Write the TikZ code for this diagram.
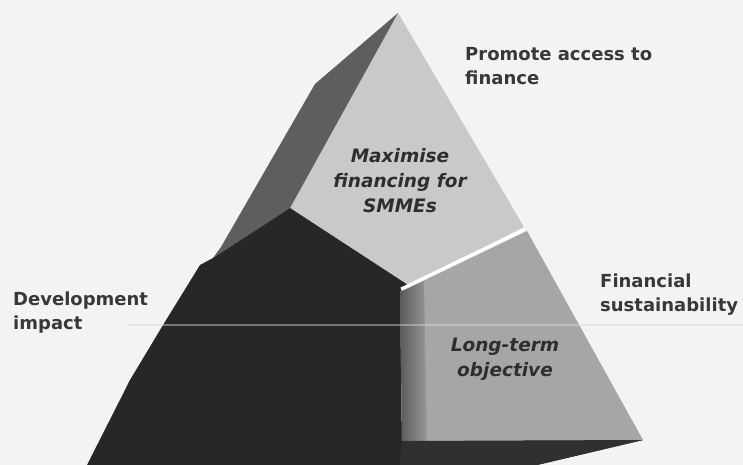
\documentclass[tikz,border=0pt]{standalone}
\usepackage{fontspec}
\setmainfont{DejaVu Sans}
\begin{document}
\begin{tikzpicture}[x=1pt,y=-1pt,
  outlabel/.style={font=\fontsize{18}{24}\selectfont\bfseries, text=black!78, align=left, anchor=north west, inner sep=0pt},
  facelabel/.style={font=\fontsize{18.5}{25}\selectfont\bfseries\itshape, text=black!82, align=center, inner sep=0pt}]
\definecolor{paper}{HTML}{F3F3F3}
\definecolor{topface}{HTML}{C9C9C9}
\definecolor{topside}{HTML}{5E5E5E}
\definecolor{blockdark}{HTML}{272727}
\definecolor{blockgray}{HTML}{A6A6A6}
\definecolor{blockside}{HTML}{6A6A6A}
\definecolor{blockfoot}{HTML}{303030}
\fill[paper] (0,0) rectangle (743,465);
\useasboundingbox (0,0) rectangle (743,465);

% corner points of the solid
\coordinate (apex) at (398,13);
\coordinate (kink) at (315,84);
\coordinate (sideL) at (221,247);
\coordinate (stepA) at (213,258);
\coordinate (stepB) at (200,265);
\coordinate (ridge) at (290,208);
\coordinate (notch) at (408,285);
\coordinate (gTL) at (400,292);
\coordinate (gTR) at (527,231);
\coordinate (gBR) at (643,440);
\coordinate (gBL) at (402,441);
\coordinate (footR) at (537,465);

% upper piece: front face
\fill[topface] (apex) -- (524,227) -- (402,290) -- (ridge) -- cycle;
% upper piece: left face
\fill[topside] (apex) -- (kink) -- (sideL) -- (stepA) -- (ridge) -- cycle;
% lower left block
\fill[blockdark] (87,465) -- (130,380) -- (163,325) -- (stepB) -- (stepA)
  -- (ridge) -- (notch) -- (gTL) -- (gBL) -- (gBR) -- (footR) -- cycle;
% gap between upper piece and right block
\draw[white, line width=3pt] (401,289) -- (525,229);
% lower right block: front face, left face, base
\fill[blockgray] (gTL) -- (gTR) -- (gBR) -- (gBL) -- cycle;
\shade[left color=blockside!85!black, right color=blockgray!92!black]
  (gTL) -- (424,281) -- (427,441) -- (gBL) -- cycle;
\fill[blockfoot] (gBL) -- (gBR) -- (footR) -- (400,465) -- cycle;

% faint horizontal rule across the page
\draw[white!85!black, opacity=0.45, line width=1.2pt] (128,325) -- (743,325);

% labels
\node[facelabel] (maxfin) at (400,181) {Maximise\\financing for\\SMMEs};
\node[facelabel] (longterm) at (505,359) {Long-term\\objective};
\node[outlabel] (access) at (465,47) {Promote access to\\finance};
\node[outlabel] (sustain) at (600,274) {Financial\\sustainability};
\node[outlabel] (devimp) at (13,292) {Development\\impact};
\end{tikzpicture}
\end{document}
